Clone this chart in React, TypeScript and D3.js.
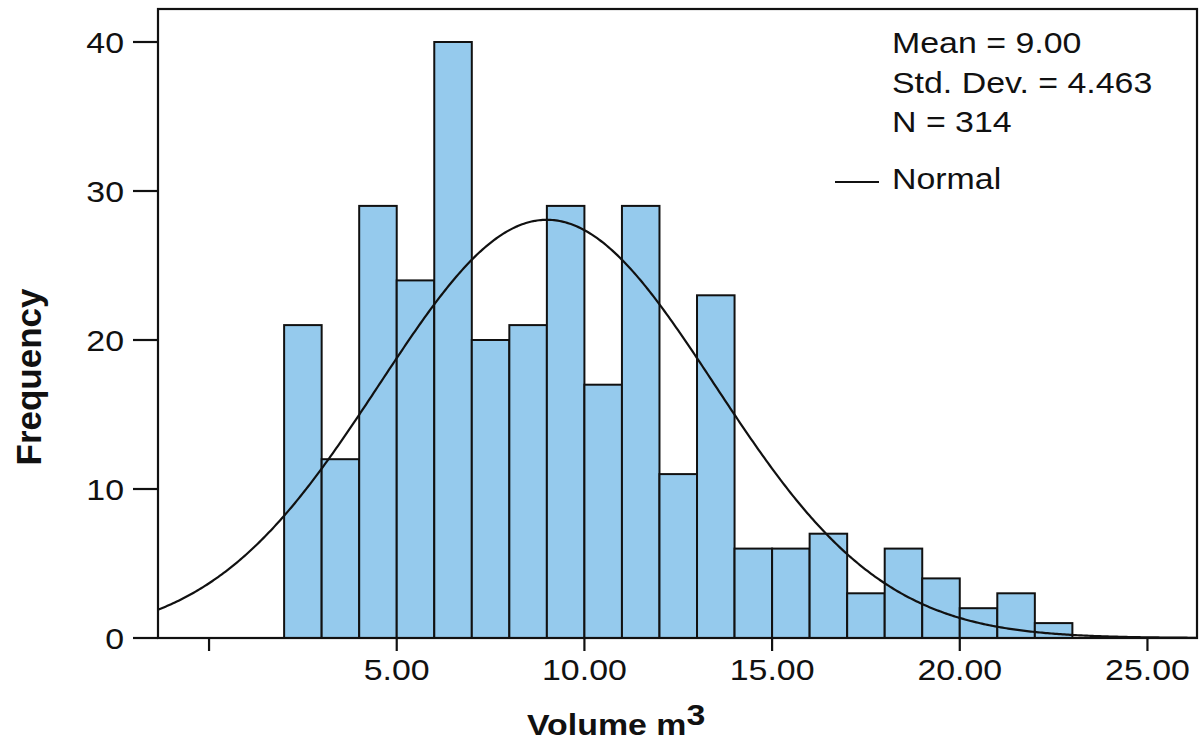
import React from "react";
import * as d3 from "d3";

const binStarts = [2, 3, 4, 5, 6, 7, 8, 9, 10, 11, 12, 13, 14, 15, 16, 17, 18, 19, 20, 21, 22];
const frequencies = [21, 12, 29, 24, 40, 20, 21, 29, 17, 29, 11, 23, 6, 6, 7, 3, 6, 4, 2, 3, 1];
const binWidth = 1;
const xTicks = [0, 5, 10, 15, 20, 25];
const xTickLabels = ["", "5.00", "10.00", "15.00", "20.00", "25.00"];
const yTicks = [0, 10, 20, 30, 40];
const statMean = 9.0;
const statSd = 4.463;
const statN = 314;
const legendLines = ["Mean = 9.00", "Std. Dev. = 4.463", "N = 314"];

const W = 1200;
const H = 741;
const left = 158;
const right = 1197;
const top = 9;
const bottom = 638;
const SX = 1.13;
const FONT = "'Liberation Sans', Arial, Helvetica, sans-serif";

export default function App() {
  const x = d3.scaleLinear().domain([-1.36, 26.32]).range([left, right]);
  const y = d3.scaleLinear().domain([0, 40]).range([bottom, 42]);

  const pdf = (v: number) =>
    (statN * binWidth) / (statSd * Math.sqrt(2 * Math.PI)) *
    Math.exp(-0.5 * ((v - statMean) / statSd) ** 2);
  const xs = d3.range(-1.36, 26.33, 0.05);
  const line = d3
    .line<number>()
    .x((v) => x(v))
    .y((v) => y(pdf(v)))
    .curve(d3.curveLinear);

  return (
    <svg
      width={W}
      height={H}
      style={{ position: "absolute", left: 0, top: 0, background: "#fff" }}
      fontFamily={FONT}
    >
      <defs>
        <clipPath id="plot">
          <rect x={left} y={top} width={right - left} height={bottom - top} />
        </clipPath>
      </defs>
      <rect x={0} y={0} width={W} height={H} fill="#fff" />
      {binStarts.map((s, i) => (
        <rect
          key={i}
          x={x(s)}
          y={y(frequencies[i])}
          width={x(s + binWidth) - x(s)}
          height={y(0) - y(frequencies[i])}
          fill="#95caed"
          stroke="#111"
          strokeWidth={2}
        />
      ))}
      <path
        d={line(xs) || ""}
        fill="none"
        stroke="#111"
        strokeWidth={2.2}
        clipPath="url(#plot)"
      />
      <rect
        x={left}
        y={top}
        width={right - left}
        height={bottom - top}
        fill="none"
        stroke="#111"
        strokeWidth={2.2}
      />
      {/* y axis ticks */}
      {yTicks.map((t) => (
        <g key={t}>
          <line x1={133} x2={left} y1={y(t)} y2={y(t)} stroke="#111" strokeWidth={2.2} />
          <text
            transform={`translate(124,${y(t) + 11}) scale(${SX},1)`}
            textAnchor="end"
            fontSize={30}
            fill="#111"
          >
            {t}
          </text>
        </g>
      ))}
      {/* x axis ticks */}
      {xTicks.map((t, i) => (
        <g key={t}>
          <line x1={x(t)} x2={x(t)} y1={bottom} y2={651} stroke="#111" strokeWidth={2.2} />
          <text
            transform={`translate(${x(t)},680) scale(${SX},1)`}
            textAnchor="middle"
            fontSize={30}
            fill="#111"
          >
            {xTickLabels[i]}
          </text>
        </g>
      ))}
      {/* axis titles */}
      <text
        transform={`translate(527,735) scale(${SX},1)`}
        fontSize={30}
        fontWeight="bold"
        fill="#111"
      >
        Volume m<tspan dy={-10}>3</tspan>
      </text>
      <text
        transform={`translate(41,377) rotate(-90)`}
        textAnchor="middle"
        fontSize={35}
        fontWeight="bold"
        fill="#111"
      >
        Frequency
      </text>
      {/* legend */}
      {legendLines.map((s, i) => (
        <text
          key={i}
          transform={`translate(892,${53 + i * 39.5}) scale(${SX},1)`}
          fontSize={30}
          fill="#111"
        >
          {s}
        </text>
      ))}
      <line x1={835} x2={879} y1={182} y2={182} stroke="#111" strokeWidth={2.2} />
      <text transform={`translate(892,189) scale(${SX},1)`} fontSize={30} fill="#111">
        Normal
      </text>
    </svg>
  );
}
